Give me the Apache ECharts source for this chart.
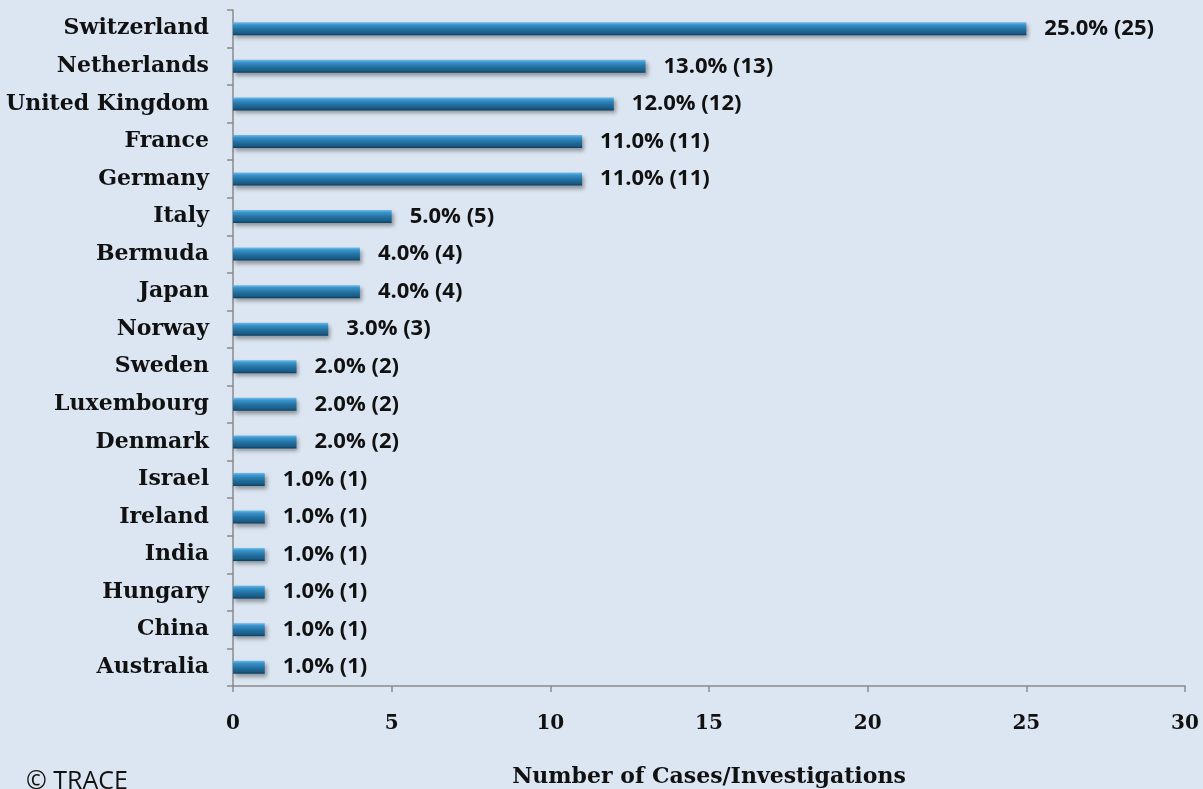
<!DOCTYPE html>
<html>
<head>
<meta charset="utf-8">
<script src="https://cdn.jsdelivr.net/npm/echarts@6/dist/echarts.min.js"></script>
<style>
    html, body { margin: 0; padding: 0; background: #dce6f2; }
    #chart { width: 1203px; height: 789px; }
</style>
</head>
<body>
<div id="chart"></div>
<script>
// countries, top to bottom
const countries = [
    "Switzerland", "Netherlands", "United Kingdom", "France", "Germany", "Italy",
    "Bermuda", "Japan", "Norway", "Sweden", "Luxembourg", "Denmark",
    "Israel", "Ireland", "India", "Hungary", "China", "Australia"
];
const cases = [25, 13, 12, 11, 11, 5, 4, 4, 3, 2, 2, 2, 1, 1, 1, 1, 1, 1];
const percents = [25.0, 13.0, 12.0, 11.0, 11.0, 5.0, 4.0, 4.0, 3.0, 2.0, 2.0, 2.0, 1.0, 1.0, 1.0, 1.0, 1.0, 1.0];
const xTicks = [0, 5, 10, 15, 20, 25, 30];

const chart = echarts.init(document.getElementById("chart"));

const serif = "'DejaVu Serif', serif";
const axisGrey = "#8a8a8a";

chart.setOption({
    backgroundColor: "#dce6f2",
    animation: false,
    grid: { left: 233, right: 18, top: 10, bottom: 103, containLabel: false, outerBoundsMode: "none" },
    xAxis: {
        type: "value",
        min: xTicks[0],
        max: xTicks[xTicks.length - 1],
        interval: 5,
        splitLine: { show: false },
        axisLine: { show: true, lineStyle: { color: axisGrey, width: 1.5 } },
        axisTick: { show: true, length: 6, lineStyle: { color: axisGrey, width: 1.5 } },
        axisLabel: { margin: 28, color: "#111", fontFamily: serif, fontWeight: "bold", fontSize: 20 },
        name: "Number of Cases/Investigations",
        nameLocation: "middle",
        nameGap: 80,
        nameTextStyle: { color: "#111", fontFamily: serif, fontWeight: "bold", fontSize: 22 }
    },
    yAxis: {
        type: "category",
        inverse: true,
        data: countries,
        axisLine: { show: true, lineStyle: { color: axisGrey, width: 1.5 } },
        axisTick: { show: true, length: 6, lineStyle: { color: axisGrey, width: 1.5 } },
        axisLabel: { margin: 24, color: "#111", fontFamily: serif, fontWeight: "bold", fontSize: 22 }
    },
    series: [
        {
            type: "bar",
            data: cases,
            barWidth: 13,
            itemStyle: {
                color: new echarts.graphic.LinearGradient(0, 0, 0, 1, [
                    { offset: 0, color: "#6cbbe8" },
                    { offset: 0.2, color: "#3a92cb" },
                    { offset: 0.55, color: "#22709f" },
                    { offset: 0.85, color: "#195b86" },
                    { offset: 1, color: "#0e3a5a" }
                ]),
                shadowColor: "rgba(0,0,0,0.35)",
                shadowBlur: 4,
                shadowOffsetX: 2,
                shadowOffsetY: 3
            },
            label: {
                show: true,
                position: "right",
                distance: 18,
                color: "#111",
                fontFamily: "'Open Sans', sans-serif",
                fontWeight: "bold",
                fontSize: 22,
                formatter: (p) => percents[p.dataIndex].toFixed(1) + "% (" + cases[p.dataIndex] + ")"
            }
        }
    ],
    graphic: [
        {
            type: "text",
            left: 26,
            top: 769,
            style: { text: "© TRACE", fill: "#111", font: "25px 'Open Sans', sans-serif" }
        }
    ]
});
</script>
</body>
</html>
